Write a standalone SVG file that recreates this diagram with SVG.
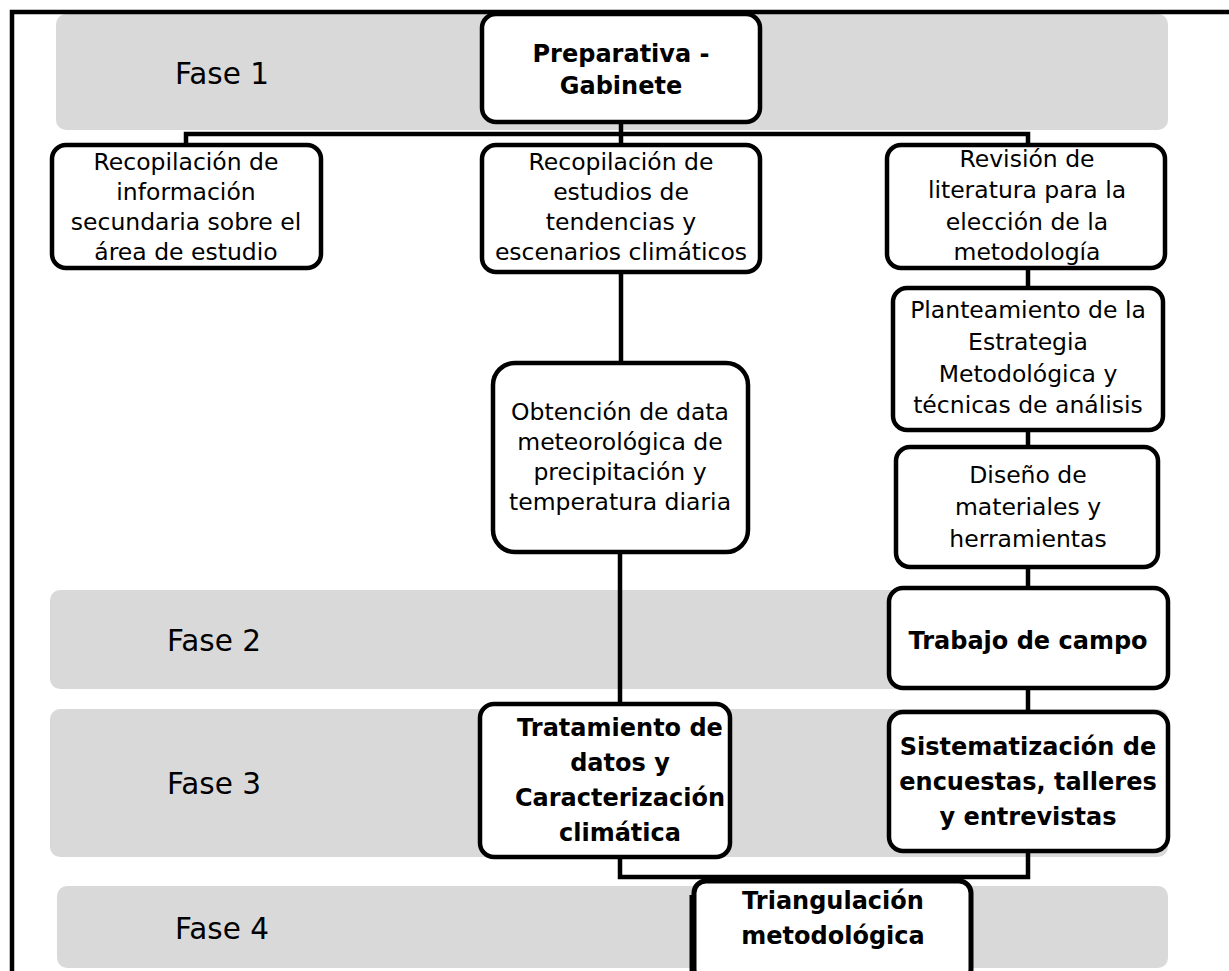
<svg xmlns="http://www.w3.org/2000/svg" width="1229" height="971" viewBox="0 0 1229 971">
<style>
.band{fill:#d9d9d9}
.node{fill:#fff;stroke:#000;stroke-width:4.5}
.t{font-family:"DejaVu Sans",Verdana,sans-serif;font-size:23.5px;fill:#000;text-anchor:middle}
.b{font-weight:bold;font-size:24px}
.fase{font-family:"DejaVu Sans",Verdana,sans-serif;font-size:29.5px;fill:#000;text-anchor:middle}
.c{fill:none;stroke:#000;stroke-width:4.5;stroke-linejoin:miter}
</style>
<rect width="1229" height="971" fill="#fff"/>
<g id="bands">
<rect class="band" x="56" y="14" width="1112" height="116" rx="10"/>
<rect class="band" x="50" y="590" width="1118" height="99" rx="10"/>
<rect class="band" x="50" y="709" width="1118" height="148" rx="10"/>
<rect class="band" x="57" y="886" width="1111" height="82" rx="10"/>
<text class="fase" x="222" y="84">Fase 1</text>
<text class="fase" x="214" y="651">Fase 2</text>
<text class="fase" x="214" y="794">Fase 3</text>
<text class="fase" x="222" y="939">Fase 4</text>
</g>
<g id="frame">
<path class="c" d="M12,971 V12 H1229"/>
</g>
<g id="connectors">
<path class="c" d="M621,122 V134"/>
<path class="c" d="M186,145 V134 H1028 V145"/>
<path class="c" d="M621,134 V145"/>
<path class="c" d="M621,272 V363"/>
<path class="c" d="M620,552 V704"/>
<path class="c" d="M1028,268 V288"/>
<path class="c" d="M1028,430 V447"/>
<path class="c" d="M1028,567 V588"/>
<path class="c" d="M1028,688 V712"/>
<path class="c" d="M620,857 V877 H1028 V851"/>
<path class="c" d="M833,877 V881"/>
</g>
<g id="n-preparativa">
<rect class="node" x="482" y="14" width="278" height="108" rx="14"/>
<text class="t b" x="621" y="62">Preparativa -</text>
<text class="t b" x="621" y="94">Gabinete</text>
</g>
<g id="n-recop-info">
<rect class="node" x="52" y="145" width="269" height="123" rx="14"/>
<text class="t" x="186" y="170">Recopilación de</text>
<text class="t" x="186" y="200">información</text>
<text class="t" x="186" y="230">secundaria sobre el</text>
<text class="t" x="186" y="260">área de estudio</text>
</g>
<g id="n-recop-estudios">
<rect class="node" x="482" y="145" width="278" height="127" rx="14"/>
<text class="t" x="621" y="170">Recopilación de</text>
<text class="t" x="621" y="200">estudios de</text>
<text class="t" x="621" y="230">tendencias y</text>
<text class="t" x="621" y="260">escenarios climáticos</text>
</g>
<g id="n-revision">
<rect class="node" x="887" y="145" width="278" height="123" rx="14"/>
<text class="t" x="1027" y="167">Revisión de</text>
<text class="t" x="1027" y="198">literatura para la</text>
<text class="t" x="1027" y="230">elección de la</text>
<text class="t" x="1027" y="260">metodología</text>
</g>
<g id="n-obtencion">
<rect class="node" x="493" y="363" width="255" height="189" rx="22"/>
<text class="t" x="620" y="420">Obtención de data</text>
<text class="t" x="620" y="450">meteorológica de</text>
<text class="t" x="620" y="480">precipitación y</text>
<text class="t" x="620" y="510">temperatura diaria</text>
</g>
<g id="n-planteamiento">
<rect class="node" x="893" y="288" width="270" height="142" rx="14"/>
<text class="t" x="1028" y="318">Planteamiento de la</text>
<text class="t" x="1028" y="350">Estrategia</text>
<text class="t" x="1028" y="382">Metodológica y</text>
<text class="t" x="1028" y="413">técnicas de análisis</text>
</g>
<g id="n-diseno">
<rect class="node" x="896" y="447" width="262" height="120" rx="14"/>
<text class="t" x="1028" y="483">Diseño de</text>
<text class="t" x="1028" y="515">materiales y</text>
<text class="t" x="1028" y="547">herramientas</text>
</g>
<g id="n-trabajo">
<rect class="node" x="889" y="588" width="279" height="100" rx="14"/>
<text class="t b" x="1028" y="649">Trabajo de campo</text>
</g>
<g id="n-tratamiento">
<rect class="node" x="480" y="704" width="250" height="153" rx="14"/>
<text class="t b" x="620" y="736">Tratamiento de</text>
<text class="t b" x="620" y="771">datos y</text>
<text class="t b" x="620" y="806">Caracterización</text>
<text class="t b" x="620" y="841">climática</text>
</g>
<g id="n-sistematizacion">
<rect class="node" x="889" y="712" width="279" height="139" rx="14"/>
<text class="t b" x="1028" y="755">Sistematización de</text>
<text class="t b" x="1028" y="790">encuestas, talleres</text>
<text class="t b" x="1028" y="825">y entrevistas</text>
</g>
<g id="n-triangulacion">
<rect class="node" x="694" y="881" width="277" height="100" rx="12" style="stroke-width:5"/>
<path class="c" d="M691,895 V971" style="stroke-width:3"/>
<text class="t b" x="833" y="909">Triangulación</text>
<text class="t b" x="833" y="944">metodológica</text>
</g>
</svg>
